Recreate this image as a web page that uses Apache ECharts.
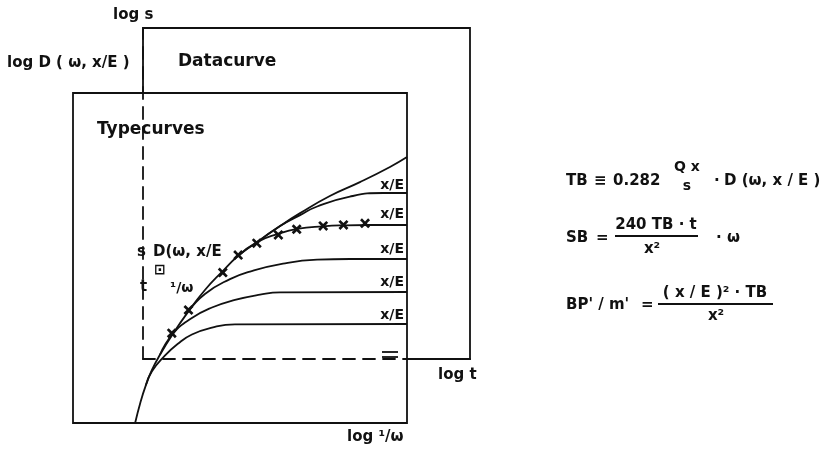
<!DOCTYPE html>
<html><head><meta charset="utf-8">
<script src="https://cdn.jsdelivr.net/npm/echarts@6/dist/echarts.min.js"></script>
<style>html,body{margin:0;padding:0;background:#fff}#c{width:837px;height:451px}</style>
</head><body><div id="c"></div>
<script>
// Type curves: x = log(1/ω) (0-100 across the type-curve sheet), y = log D(ω, x/E) (0-100)
const envelope = [[18.6,0],[20.2,6.3],[21.8,11.4],[23.6,16.0],[26.0,20.6],[29.9,27.0],[34.4,33.6],[39.5,40.3],[44.6,45.8],[49.4,50.6],[55.1,54.8],[62.0,59.7],[68.0,63.6],[76.9,68.8],[85.9,73.0],[94.9,77.6],[100,80.6]];
const curve1 = [[55.1,54.8],[62.0,59.7],[68.0,63.0],[73.1,65.6],[82.9,68.6],[92.8,69.7],[100,69.7]];
const curve2 = [[49.4,50.6],[55.1,54.8],[61.4,57.3],[67.1,58.8],[74.9,59.6],[81.4,59.9],[88.9,60.0],[100,60.0]];
const curve3 = [[34.4,33.6],[39.5,39.1],[47.0,43.6],[53.0,45.9],[62.9,48.3],[73.1,49.5],[82.9,49.7],[100,49.7]];
const curve4 = [[26.0,20.6],[29.9,27.0],[35.6,31.8],[41.6,35.0],[48.5,37.3],[56.0,38.9],[62.0,39.6],[100,39.7]];
const curve5 = [[21.8,11.4],[23.6,15.6],[27.5,20.4],[31.4,24.0],[35.6,26.8],[41.6,28.9],[48.5,29.9],[100,30.0]];
// Measured data: x = log t, y = log s (0-100 across the data sheet)
const logT = [8.8,13.9,24.4,29.1,34.8,41.4,47.0,55.1,61.3,67.9];
const logS = [7.8,14.8,26.1,31.4,35.0,37.5,39.2,40.2,40.5,41.0];

const FONT = 'DejaVu Sans';
const INK = '#111';
const crossPath = 'path://M0,1.9L1.9,0L5,3.1L8.1,0L10,1.9L6.9,5L10,8.1L8.1,10L5,6.9L1.9,10L0,8.1L3.1,5Z';

function txt(x, y, text, size, align) {
  return { type: 'text', x: x, y: y, z: 10,
    style: { text: text, fontFamily: FONT, fontWeight: 'bold', fontSize: size, fill: INK,
      align: align || 'left', verticalAlign: 'middle' } };
}
function ln(x1, y1, x2, y2, w) {
  return { type: 'line', z: 10, shape: { x1: x1, y1: y1, x2: x2, y2: y2 },
    style: { stroke: INK, lineWidth: w || 1.8 } };
}

const typeLines = [envelope, curve1, curve2, curve3, curve4, curve5].map(d => ({
  type: 'line', xAxisIndex: 1, yAxisIndex: 1, data: d, showSymbol: false, symbol: 'none',
  smooth: 0.5, lineStyle: { color: INK, width: 1.8 }, z: 4, silent: true
}));

const chart = echarts.init(document.getElementById('c'), null, { renderer: 'canvas' });
chart.setOption({
  animation: false,
  backgroundColor: '#fff',
  grid: [
    { left: 143, top: 28, width: 327, height: 331, show: true, backgroundColor: 'transparent',
      borderColor: INK, borderWidth: 1.8, z: 0 },
    { left: 73, top: 93, width: 334, height: 330, show: true, backgroundColor: '#fff',
      borderColor: INK, borderWidth: 1.8, z: 1 }
  ],
  xAxis: [
    { gridIndex: 0, type: 'value', min: 0, max: 100, z: 3,
      axisLine: { show: true, onZero: false, lineStyle: { color: INK, width: 1.8, type: [12, 8] } },
      axisTick: { show: false }, axisLabel: { show: false }, splitLine: { show: false } },
    { gridIndex: 1, type: 'value', min: 0, max: 100, show: false, splitLine: { show: false } }
  ],
  yAxis: [
    { gridIndex: 0, type: 'value', min: 0, max: 100, z: 3,
      axisLine: { show: true, onZero: false, lineStyle: { color: INK, width: 1.8, type: [12, 8] } },
      axisTick: { show: false }, axisLabel: { show: false }, splitLine: { show: false } },
    { gridIndex: 1, type: 'value', min: 0, max: 100, show: false, splitLine: { show: false } }
  ],
  series: typeLines.concat([{
    type: 'scatter', xAxisIndex: 0, yAxisIndex: 0, z: 6, silent: true,
    data: logT.map((t, i) => [t, logS[i]]),
    symbol: crossPath, symbolSize: 10, itemStyle: { color: INK, opacity: 1 }
  }]),
  graphic: [
    txt(113, 15, 'log s', 15),
    txt(7, 63, 'log D ( ω, x/E )', 15),
    txt(178, 62, 'Datacurve', 17),
    txt(97, 130, 'Typecurves', 17),
    txt(137, 252, 's', 15),
    txt(153, 252, 'D(ω, x/E', 15),
    txt(154, 270, '⊡', 14),
    txt(140, 287, 't', 15),
    txt(170, 288, '¹/ω', 14),
    txt(404, 185, 'x/E', 14, 'right'),
    txt(404, 214, 'x/E', 14, 'right'),
    txt(404, 249, 'x/E', 14, 'right'),
    txt(404, 282, 'x/E', 14, 'right'),
    txt(404, 315, 'x/E', 14, 'right'),
    ln(382, 352, 398, 352, 1.8),
    ln(382, 357, 398, 357, 1.8),
    txt(438, 375, 'log t', 15),
    txt(347, 437, 'log ¹/ω', 15),
    // formulas
    txt(566, 181, 'TB', 15),
    txt(594, 181, '≡', 15),
    txt(613, 181, '0.282', 15),
    txt(687, 167, 'Q x', 14, 'center'),
    txt(687, 186, 's', 14, 'center'),
    txt(714, 181, '·', 15),
    txt(724, 181, 'D (ω, x / E )', 15),
    txt(566, 238, 'SB', 15),
    txt(596, 238, '=', 15),
    txt(656, 225, '240 TB · t', 15, 'center'),
    ln(615, 236, 698, 236, 1.8),
    txt(652, 249, 'x²', 15, 'center'),
    txt(716, 238, '· ω', 15),
    txt(566, 305, "BP' / m'", 15),
    txt(641, 305, '=', 15),
    txt(715, 293, '( x / E )² · TB', 15, 'center'),
    ln(658, 304, 773, 304, 1.8),
    txt(716, 316, 'x²', 15, 'center')
  ]
});
</script></body></html>
